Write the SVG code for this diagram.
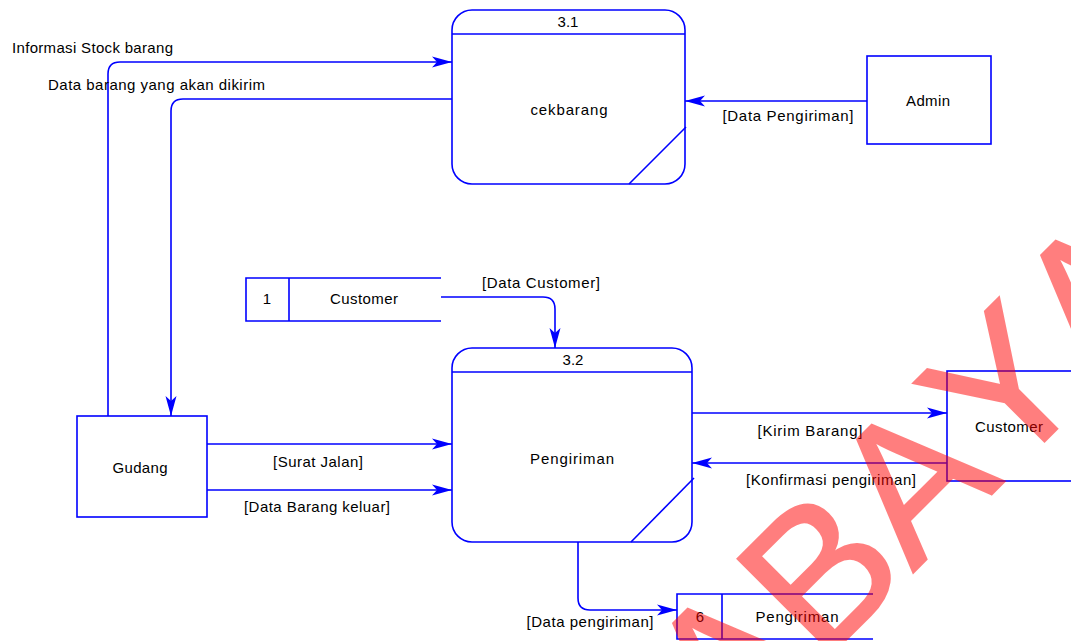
<svg xmlns="http://www.w3.org/2000/svg" width="1071" height="641" viewBox="0 0 1071 641">
  <style>
    .shape { fill: none; stroke: #0000ff; stroke-width: 1.6; }
    .flow { fill: none; stroke: #0000ff; stroke-width: 1.6; }
    .arrowed { marker-end: url(#arrow); }
    text { font-family: "Liberation Sans", Arial, sans-serif; font-size: 15px; fill: #000000; }
    .c { text-anchor: middle; }
    .mark { font-size: 195px; fill: #ff0000; stroke: #ff0000; stroke-width: 2; opacity: 0.5; font-kerning: none; }
  </style>
  <defs>
    <marker id="arrow" markerUnits="userSpaceOnUse" markerWidth="24" markerHeight="14" refX="20" refY="6" orient="auto" viewBox="0 0 24 14">
      <path d="M20,6 L0,0.5 L5,6 L0,11.5 Z" fill="#0000ff"/>
    </marker>
  </defs>

  <rect width="1071" height="641" fill="#ffffff"/>

  <!-- data flows -->
  <g id="connectors">
    <path class="flow arrowed" d="M108,416 V74 Q108,62 120,62 H452"/>
    <path class="flow arrowed" d="M452,99 H183 Q171,99 171,111 V416"/>
    <path class="flow arrowed" d="M867,101 H685"/>
    <path class="flow arrowed" d="M441,297 H543 Q555,297 555,309 V348"/>
    <path class="flow arrowed" d="M207,444 H452"/>
    <path class="flow arrowed" d="M207,490 H452"/>
    <path class="flow arrowed" d="M692,413 H947"/>
    <path class="flow arrowed" d="M947,463 H692"/>
    <path class="flow arrowed" d="M578,542 V598 Q578,610 590,610 H677"/>

    <text x="12" y="53" textLength="161" lengthAdjust="spacing">Informasi Stock barang</text>
    <text x="48" y="90" textLength="217" lengthAdjust="spacing">Data barang yang akan dikirim</text>
    <text class="c" x="788" y="121" textLength="131" lengthAdjust="spacing">[Data Pengiriman]</text>
    <text class="c" x="541" y="288" textLength="118" lengthAdjust="spacing">[Data Customer]</text>
    <text class="c" x="318" y="467" textLength="90" lengthAdjust="spacing">[Surat Jalan]</text>
    <text class="c" x="317" y="512" textLength="146" lengthAdjust="spacing">[Data Barang keluar]</text>
    <text class="c" x="810" y="436" textLength="105" lengthAdjust="spacing">[Kirim Barang]</text>
    <text class="c" x="831" y="485" textLength="170" lengthAdjust="spacing">[Konfirmasi pengiriman]</text>
    <text class="c" x="590" y="627" textLength="127" lengthAdjust="spacing">[Data pengiriman]</text>
  </g>

  <!-- process 3.1 -->
  <g id="proc-3-1">
    <rect class="shape" x="452" y="10" width="233" height="174" rx="20" ry="20"/>
    <line class="shape" x1="452" y1="34" x2="685" y2="34"/>
    <line class="shape" x1="686" y1="127" x2="629" y2="184"/>
    <text class="c" x="568" y="27">3.1</text>
    <text class="c" x="569" y="115" textLength="77" lengthAdjust="spacing">cekbarang</text>
  </g>

  <!-- process 3.2 -->
  <g id="proc-3-2">
    <rect class="shape" x="452" y="348" width="240" height="194" rx="20" ry="20"/>
    <line class="shape" x1="452" y1="372" x2="692" y2="372"/>
    <line class="shape" x1="694" y1="478" x2="631" y2="542"/>
    <text class="c" x="573" y="365">3.2</text>
    <text class="c" x="572" y="464" textLength="84" lengthAdjust="spacing">Pengiriman</text>
  </g>

  <!-- external entities -->
  <g id="ent-admin">
    <rect class="shape" x="867" y="56" width="124" height="88"/>
    <text class="c" x="928" y="106" textLength="44" lengthAdjust="spacing">Admin</text>
  </g>
  <g id="ent-gudang">
    <rect class="shape" x="77" y="416" width="130" height="101"/>
    <text class="c" x="140" y="473" textLength="55" lengthAdjust="spacing">Gudang</text>
  </g>
  <g id="ent-customer">
    <rect class="shape" x="947" y="371" width="140" height="110"/>
    <text class="c" x="1009" y="432" textLength="68" lengthAdjust="spacing">Customer</text>
  </g>

  <!-- data stores -->
  <g id="store-1">
    <path class="shape" d="M441,278 H246 V321 H441 M289,278 V321"/>
    <text class="c" x="267" y="304">1</text>
    <text class="c" x="364" y="304" textLength="68" lengthAdjust="spacing">Customer</text>
  </g>
  <g id="store-6">
    <path class="shape" d="M873,594 H677 V639 H873 M722,594 V639"/>
    <text class="c" x="700" y="622">6</text>
    <text class="c" x="797" y="622" textLength="83" lengthAdjust="spacing">Pengiriman</text>
  </g>

  <!-- watermark lettering -->
  <text class="mark" transform="translate(729,757) rotate(-45)" x="0" y="0">ABAYA</text>
</svg>
